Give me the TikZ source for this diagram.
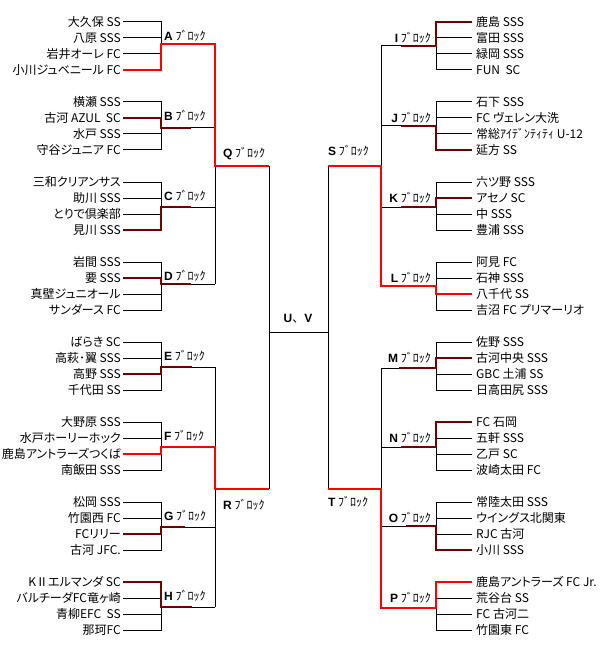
\documentclass[tikz,border=0pt]{standalone}
\usepackage{fontspec}
\newfontfamily\jpfont[RawFeature=+palt]{Noto Sans CJK JP}
\newfontfamily\kanafont{Noto Sans CJK JP}
\newfontfamily\latfont{Liberation Sans}
\definecolor{darkwin}{RGB}{112,0,0}
\newcommand{\blab}[1]{{\latfont\bfseries #1} {\kanafont ﾌﾞﾛｯｸ}}
\begin{document}
\begin{tikzpicture}[x=1pt, y=-1pt,
    team/.style={font=\jpfont\fontsize{12pt}{14pt}\selectfont, inner xsep=2pt, inner ysep=0pt, text height=10pt, text depth=1pt},
    lteam/.style={team, anchor=east},
    rteam/.style={team, anchor=west, inner xsep=4pt},
    blk/.style={font=\jpfont\fontsize{12pt}{14pt}\selectfont, inner sep=0pt, text height=10pt, text depth=1pt},
    bline/.style={draw, line width=1pt},
    win/.style={draw=red, line width=2pt},
    part/.style={draw=darkwin, line width=2pt}]
\useasboundingbox (0,0) rectangle (601,655);

% left side teams
\node[lteam] (a1) at (123,22) {大久保 SS};
\node[lteam] (a2) at (123,38) {八原 SSS};
\node[lteam] (a3) at (123,54) {岩井オーレ FC};
\node[lteam] (a4) at (123,70) {小川ジュベニール FC};
\node[lteam] (b1) at (123,102) {横瀬 SSS};
\node[lteam] (b2) at (123,118) {古河 AZUL~~SC};
\node[lteam] (b3) at (123,134) {水戸 SSS};
\node[lteam] (b4) at (123,150) {守谷ジュニア FC};
\node[lteam] (c1) at (123,182) {三和クリアンサス};
\node[lteam] (c2) at (123,198) {助川 SSS};
\node[lteam] (c3) at (123,214) {とりで倶楽部};
\node[lteam] (c4) at (123,230) {見川 SSS};
\node[lteam] (d1) at (123,262) {岩間 SSS};
\node[lteam] (d2) at (123,278) {要 SSS};
\node[lteam] (d3) at (123,294) {真壁ジュニオール};
\node[lteam] (d4) at (123,310) {サンダース FC};
\node[lteam] (e1) at (123,342) {ばらき SC};
\node[lteam] (e2) at (123,358) {高萩･翼 SSS};
\node[lteam] (e3) at (123,374) {高野 SSS};
\node[lteam] (e4) at (123,390) {千代田 SS};
\node[lteam] (f1) at (123,422) {大野原 SSS};
\node[lteam] (f2) at (123,438) {水戸ホーリーホック};
\node[lteam] (f3) at (123,454) {鹿島アントラーズつくば};
\node[lteam] (f4) at (123,470) {南飯田 SSS};
\node[lteam] (g1) at (123,502) {松岡 SSS};
\node[lteam] (g2) at (123,518) {竹園西 FC};
\node[lteam] (g3) at (123,534) {FCリリー};
\node[lteam] (g4) at (123,550) {古河 JFC.};
\node[lteam] (h1) at (123,582) {KⅡエルマンダ SC};
\node[lteam] (h2) at (123,598) {バルチーダFC竜ヶ崎};
\node[lteam] (h3) at (123,614) {青柳EFC~~SS};
\node[lteam] (h4) at (123,630) {那珂FC};

% right side teams
\node[rteam] (i1) at (472,22) {鹿島 SSS};
\node[rteam] (i2) at (472,38) {富田 SSS};
\node[rteam] (i3) at (472,54) {緑岡 SSS};
\node[rteam] (i4) at (472,70) {FUN~~SC};
\node[rteam] (j1) at (472,102) {石下 SSS};
\node[rteam] (j2) at (472,118) {FC ヴェレン大洗};
\node[rteam] (j3) at (472,134) {常総ｱｲﾃﾞﾝﾃｨﾃｨ U-12};
\node[rteam] (j4) at (472,150) {延方 SS};
\node[rteam] (k1) at (472,182) {六ツ野 SSS};
\node[rteam] (k2) at (472,198) {アセノ SC};
\node[rteam] (k3) at (472,214) {中 SSS};
\node[rteam] (k4) at (472,230) {豊浦 SSS};
\node[rteam] (l1) at (472,262) {阿見 FC};
\node[rteam] (l2) at (472,278) {石神 SSS};
\node[rteam] (l3) at (472,294) {八千代 SS};
\node[rteam] (l4) at (472,310) {吉沼 FC プリマーリオ};
\node[rteam] (m1) at (472,342) {佐野 SSS};
\node[rteam] (m2) at (472,358) {古河中央 SSS};
\node[rteam] (m3) at (472,374) {GBC 土浦 SS};
\node[rteam] (m4) at (472,390) {日高田尻 SSS};
\node[rteam] (n1) at (472,422) {FC 石岡};
\node[rteam] (n2) at (472,438) {五軒 SSS};
\node[rteam] (n3) at (472,454) {乙戸 SC};
\node[rteam] (n4) at (472,470) {波崎太田 FC};
\node[rteam] (o1) at (472,502) {常陸太田 SSS};
\node[rteam] (o2) at (472,518) {ウイングス北関東};
\node[rteam] (o3) at (472,534) {RJC 古河};
\node[rteam] (o4) at (472,550) {小川 SSS};
\node[rteam] (p1) at (472,582) {鹿島アントラーズ FC Jr.};
\node[rteam] (p2) at (472,598) {荒谷台 SS};
\node[rteam] (p3) at (472,614) {FC 古河二};
\node[rteam] (p4) at (472,630) {竹園東 FC};

% junctions
\coordinate (A) at (161,44);  \coordinate (Ae) at (215,44);
\coordinate (B) at (161,128); \coordinate (Be) at (215,128);
\coordinate (C) at (161,207); \coordinate (Ce) at (215,207);
\coordinate (D) at (161,284); \coordinate (De) at (215,284);
\coordinate (E) at (161,367); \coordinate (Ee) at (215,367);
\coordinate (F) at (161,447); \coordinate (Fe) at (215,447);
\coordinate (G) at (161,527); \coordinate (Ge) at (215,527);
\coordinate (H) at (161,607); \coordinate (He) at (215,607);
\coordinate (I) at (436,46);  \coordinate (Ie) at (381,46);
\coordinate (J) at (436,126); \coordinate (Je) at (381,126);
\coordinate (K) at (436,207); \coordinate (Ke) at (381,207);
\coordinate (L) at (436,286); \coordinate (Le) at (381,286);
\coordinate (M) at (436,368); \coordinate (Me) at (381,368);
\coordinate (N) at (436,447); \coordinate (Ne) at (381,447);
\coordinate (O) at (436,526); \coordinate (Oe) at (381,526);
\coordinate (P) at (436,608); \coordinate (Pe) at (381,608);
\coordinate (Q) at (269,166); \coordinate (R) at (269,489);
\coordinate (S) at (328,166); \coordinate (T) at (328,489);
\coordinate (uv1) at (269,332); \coordinate (uv2) at (328,332);

% block labels
\node[blk, anchor=west] (labA) at (164,36) {\blab{A}};
\node[blk, anchor=west] (labB) at (164,116) {\blab{B}};
\node[blk, anchor=west] (labC) at (164,196) {\blab{C}};
\node[blk, anchor=west] (labD) at (164,276) {\blab{D}};
\node[blk, anchor=west] (labE) at (164,356) {\blab{E}};
\node[blk, anchor=west] (labF) at (164,436) {\blab{F}};
\node[blk, anchor=west] (labG) at (164,516) {\blab{G}};
\node[blk, anchor=west] (labH) at (164,596) {\blab{H}};
\node[blk, anchor=east] (labI) at (431,38) {\blab{I}};
\node[blk, anchor=east] (labJ) at (431,118) {\blab{J}};
\node[blk, anchor=east] (labK) at (431,198) {\blab{K}};
\node[blk, anchor=east] (labL) at (431,278) {\blab{L}};
\node[blk, anchor=east] (labM) at (431,358) {\blab{M}};
\node[blk, anchor=east] (labN) at (431,438) {\blab{N}};
\node[blk, anchor=east] (labO) at (431,518) {\blab{O}};
\node[blk, anchor=east] (labP) at (431,598) {\blab{P}};
\node[blk, anchor=west] (labQ) at (223,153) {\blab{Q}};
\node[blk, anchor=west] (labR) at (223,505) {\blab{R}};
\node[blk, anchor=west] (labS) at (328,151) {\blab{S}};
\node[blk, anchor=west] (labT) at (328,502) {\blab{T}};
\node[blk] (labUV) at (298,318) {{\latfont\bfseries U}{\kanafont 、}{\latfont\bfseries V}};

% bracket lines
\draw[bline] (a1.east) -| (A) (a2.east) -| (A) (a3.east) -| (A) (a4.east) -| (A) (A) -- (Ae);
\draw[bline] (b1.east) -| (B) (b2.east) -| (B) (b3.east) -| (B) (b4.east) -| (B) (B) -- (Be);
\draw[bline] (c1.east) -| (C) (c2.east) -| (C) (c3.east) -| (C) (c4.east) -| (C) (C) -- (Ce);
\draw[bline] (d1.east) -| (D) (d2.east) -| (D) (d3.east) -| (D) (d4.east) -| (D) (D) -- (De);
\draw[bline] (e1.east) -| (E) (e2.east) -| (E) (e3.east) -| (E) (e4.east) -| (E) (E) -- (Ee);
\draw[bline] (f1.east) -| (F) (f2.east) -| (F) (f3.east) -| (F) (f4.east) -| (F) (F) -- (Fe);
\draw[bline] (g1.east) -| (G) (g2.east) -| (G) (g3.east) -| (G) (g4.east) -| (G) (G) -- (Ge);
\draw[bline] (h1.east) -| (H) (h2.east) -| (H) (h3.east) -| (H) (h4.east) -| (H) (H) -- (He);
\draw[bline] (i1.west) -| (I) (i2.west) -| (I) (i3.west) -| (I) (i4.west) -| (I) (I) -- (Ie);
\draw[bline] (j1.west) -| (J) (j2.west) -| (J) (j3.west) -| (J) (j4.west) -| (J) (J) -- (Je);
\draw[bline] (k1.west) -| (K) (k2.west) -| (K) (k3.west) -| (K) (k4.west) -| (K) (K) -- (Ke);
\draw[bline] (l1.west) -| (L) (l2.west) -| (L) (l3.west) -| (L) (l4.west) -| (L) (L) -- (Le);
\draw[bline] (m1.west) -| (M) (m2.west) -| (M) (m3.west) -| (M) (m4.west) -| (M) (M) -- (Me);
\draw[bline] (n1.west) -| (N) (n2.west) -| (N) (n3.west) -| (N) (n4.west) -| (N) (N) -- (Ne);
\draw[bline] (o1.west) -| (O) (o2.west) -| (O) (o3.west) -| (O) (o4.west) -| (O) (O) -- (Oe);
\draw[bline] (p1.west) -| (P) (p2.west) -| (P) (p3.west) -| (P) (p4.west) -| (P) (P) -- (Pe);
\draw[bline] (Ae) |- (Q) (Be) |- (Q) (Ce) |- (Q) (De) |- (Q);
\draw[bline] (Ee) |- (R) (Fe) |- (R) (Ge) |- (R) (He) |- (R);
\draw[bline] (Ie) |- (S) (Je) |- (S) (Ke) |- (S) (Le) |- (S);
\draw[bline] (Me) |- (T) (Ne) |- (T) (Oe) |- (T) (Pe) |- (T);
\draw[bline] (Q) -- (R) (S) -- (T) (uv1) -- (uv2);

% winners
\draw[win] (a4.east) -| (A) -- (Ae) |- (Q);
\draw[win] (f3.east) -| (F) -- (Fe) |- (R);
\draw[win] (l3.west) -| (L) -- (Le) |- (S);
\draw[win] (p1.west) -| (P) -- (Pe) |- (T);
\draw[part] (b2.east) -| (B) -- ++(30,0);
\draw[part] (c4.east) -| (C) -- ++(30,0);
\draw[part] (d2.east) -| (D) -- ++(30,0);
\draw[part] (e3.east) -| (E) -- ++(31,0);
\draw[part] (g3.east) -| (G) -- ++(24,0);
\draw[part] (h1.east) -| (H) -- ++(31,0);
\draw[part] (i1.west) -| (I) -- ++(-35,0);
\draw[part] (j4.west) -| (J) -- ++(-35,0);
\draw[part] (k2.west) -| (K) -- ++(-35,0);
\draw[part] (m2.west) -| (M) -- ++(-37,0);
\draw[part] (n1.west) -| (N) -- ++(-35,0);
\draw[part] (o4.west) -| (O) -- ++(-30,0);
\end{tikzpicture}
\end{document}
